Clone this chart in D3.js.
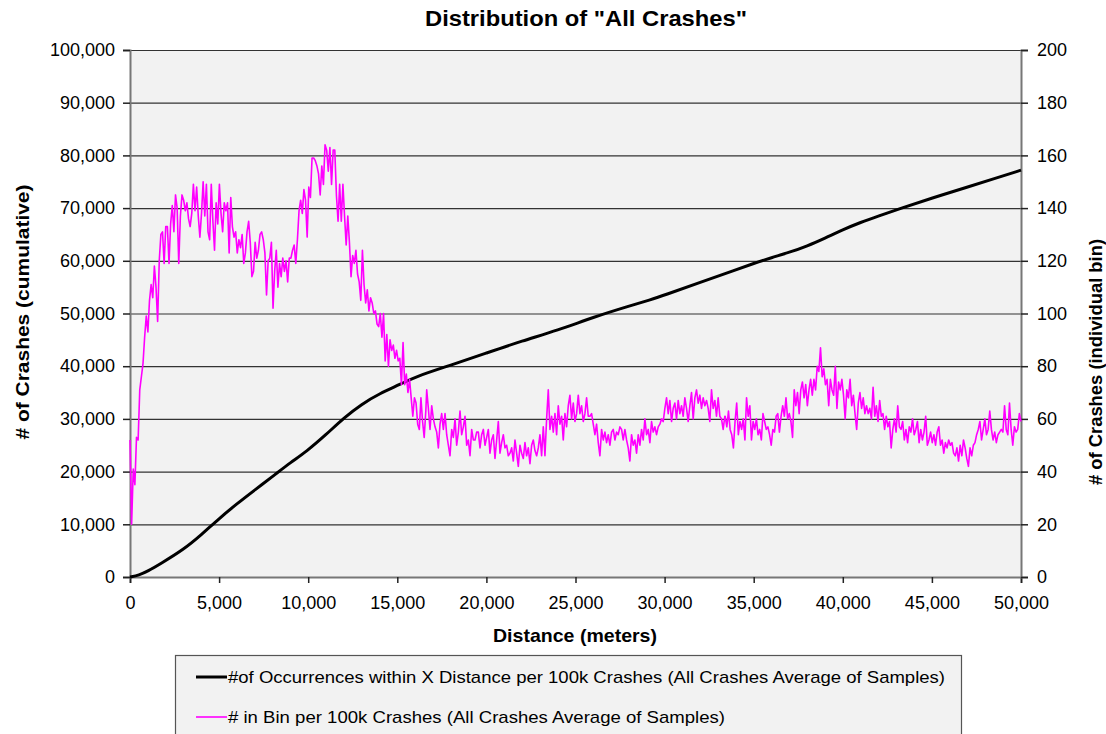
<!DOCTYPE html>
<html>
<head>
<meta charset="utf-8">
<script src="https://cdn.jsdelivr.net/npm/d3@7"></script>
<style>
  body { margin: 0; background: #fff; }
  text { font-family: "Liberation Sans", Arial, sans-serif; fill: #000; }
</style>
</head>
<body>
<div id="chart"></div>
<script>
// cumulative line (black): distance (m) / crashes
var cumDist  = [0, 500, 1000, 1700, 3000, 4000, 5000, 6000, 7000, 8200, 9000, 9900, 11000, 12000, 13000, 14000, 15200, 16000, 18000, 20000, 22000, 24000, 26000, 28000, 29200, 30000, 32000, 34000, 35000, 36000, 37000, 38000, 39000, 40000, 41000, 42000, 43200, 45000, 47000, 48500, 50000];
var cumCount = [0, 350, 1100, 2500, 5200, 8000, 11100, 13900, 16500, 19600, 21700, 23800, 27000, 30200, 32800, 34800, 36600, 38000, 40200, 42500, 44800, 46800, 49300, 51400, 52600, 53500, 55900, 58300, 59500, 60600, 61600, 62800, 64300, 65900, 67300, 68500, 69900, 71900, 74000, 75600, 77200];

// per-bin counts (magenta), read in three stretches of distance
var segStart = [0, 16650, 33400];
var segEnd   = [16600, 33380, 50000];
var binsA = [52,20,41,35,53,52,71,76,81,91,99,93,105,111,106,118,110,97,120,130,131,119,133,133,119,134,141,131,145,140,119,137,145,143,139,142,136,133,138,149,139,148,137,129,138,150,137,149,131,128,149,135,124,142,134,149,138,131,142,139,142,123,144,133,129,131,123,128,125,130,119,123,131,135,127,114,116,127,121,124,130,131,128,123,107,120,121,127,102,116,124,110,119,114,121,116,120,112,121,121,124,126,119,128,139,143,138,147,143,129,148,144,159,159,158,156,153,145,156,149,164,162,154,163,149,162,162,145,135,149,135,149,137,126,137,127,114,122,119,124,115,112,105,124,111,104,109,101,106,104,100,101,96,95,100,91,100,82,92,80,90,86,88,83,86,82,83,73,89,73,77,70,75,68,61,68,66,58,56,68,59,53,63];
var binsB = [71,64,56,65,60,57,55,49,58,62,56,62,54,50,46,56,53,60,50,55,63,54,57,61,50,52,46,56,52,52,55,55,49,54,56,50,53,56,47,52,54,45,52,59,47,51,54,49,50,46,47,49,44,52,47,42,50,47,45,51,46,49,43,50,52,48,46,49,54,46,57,46,60,71,56,61,55,62,54,65,58,61,52,62,57,65,69,60,66,59,62,69,62,65,59,62,68,61,61,62,58,54,58,51,46,56,52,55,51,54,50,55,56,52,55,54,57,56,52,56,52,49,44,54,50,52,47,54,50,56,52,60,54,56,51,59,55,57,54,57,58,60,59,64,68,62,67,59,64,66,60,67,62,65,61,68,64,59,65,70,60,68,71,66,69,64,68,65,67,64,59,71,64,67,61,68,61,60,56,61];
var binsC = [61,57,63,56,54,49,59,66,54,59,56,60,52,68,61,65,52,59,56,60,54,56,52,62,59,56,57,54,50,56,55,61,62,55,61,65,61,68,60,62,59,53,71,65,70,62,71,74,68,73,65,71,75,69,75,71,80,78,87,76,79,73,75,65,75,71,69,80,64,74,71,75,69,60,71,68,75,65,69,62,56,66,70,64,68,62,65,62,64,60,72,61,65,59,67,61,62,56,61,57,59,49,56,60,55,65,57,56,59,52,56,51,57,55,60,54,56,59,51,56,52,55,61,50,52,55,51,54,50,55,57,50,52,47,51,49,52,50,51,47,46,49,44,50,46,52,49,45,42,49,46,50,51,54,56,59,52,56,60,54,56,63,56,52,55,51,54,55,56,55,65,56,54,66,56,50,57,55,56,62,59];

var xTicks = [0, 5000, 10000, 15000, 20000, 25000, 30000, 35000, 40000, 45000, 50000];
var leftTicks = [0, 10000, 20000, 30000, 40000, 50000, 60000, 70000, 80000, 90000, 100000];
var rightTicks = [0, 20, 40, 60, 80, 100, 120, 140, 160, 180, 200];

var legendLabels = [
  "#of Occurrences within X Distance per 100k Crashes (All Crashes Average of Samples)",
  "# in Bin per 100k Crashes (All Crashes Average of Samples)"
];

var margin = {top: 50, right: 85, bottom: 157, left: 130},
    W = 1106, H = 734,
    width = W - margin.left - margin.right,   // 891
    height = H - margin.top - margin.bottom;  // 527

var svg = d3.select("#chart").append("svg")
    .attr("width", W).attr("height", H);

var g = svg.append("g")
    .attr("transform", "translate(" + margin.left + "," + margin.top + ")");

var x = d3.scaleLinear().domain([0, 50000]).range([0, width]);
var yL = d3.scaleLinear().domain([0, 100000]).range([height, 0]);
var yR = d3.scaleLinear().domain([0, 200]).range([height, 0]);

// plot area
g.append("rect")
    .attr("width", width).attr("height", height)
    .attr("fill", "#f2f2f2");

// gridlines
g.selectAll(".grid").data(leftTicks.slice(1))
  .enter().append("line")
    .attr("x1", 0).attr("x2", width)
    .attr("y1", function(d) { return yL(d) + 0.5; })
    .attr("y2", function(d) { return yL(d) + 0.5; })
    .attr("stroke", "#333").attr("stroke-width", 1.2);

// axes
var fmt = d3.format(",");
var ax = g.append("g")
    .attr("transform", "translate(0," + height + ")")
    .call(d3.axisBottom(x).tickValues(xTicks).tickFormat(fmt).tickSizeOuter(0).tickSize(6).tickPadding(13));
var al = g.append("g")
    .call(d3.axisLeft(yL).tickValues(leftTicks).tickFormat(fmt).tickSizeOuter(0).tickSize(7).tickPadding(8));
var ar = g.append("g")
    .attr("transform", "translate(" + width + ",0)")
    .call(d3.axisRight(yR).tickValues(rightTicks).tickSizeOuter(0).tickSize(7).tickPadding(9));

[ax, al, ar].forEach(function(a) {
  a.selectAll("text").style("font-size", "18px").attr("fill", "#000")
    .style("font-family", "'Liberation Sans', Arial, sans-serif");
  a.select(".domain").attr("stroke", "#777").attr("stroke-width", 2);
  a.selectAll(".tick line").attr("stroke", "#222").attr("stroke-width", 1.5);
});

// cumulative line
var cumData = cumDist.map(function(d, i) { return [d, cumCount[i]]; });
g.append("path")
    .datum(cumData)
    .attr("fill", "none")
    .attr("stroke", "#000")
    .attr("stroke-width", 3)
    .attr("d", d3.line()
      .x(function(d) { return x(d[0]); })
      .y(function(d) { return yL(d[1]); })
      .curve(d3.curveBasis));

// per-bin line
var binData = [];
[binsA, binsB, binsC].forEach(function(arr, s) {
  var step = (segEnd[s] - segStart[s]) / (arr.length - 1);
  arr.forEach(function(v, i) { binData.push([segStart[s] + i * step, v]); });
});
g.append("path")
    .datum(binData)
    .attr("fill", "none")
    .attr("stroke", "#ff00ff")
    .attr("stroke-width", 1.6)
    .attr("stroke-linejoin", "round")
    .attr("d", d3.line()
      .x(function(d) { return x(d[0]); })
      .y(function(d) { return yR(d[1]); }));

// titles
svg.append("text")
    .attr("x", 586).attr("y", 26)
    .attr("text-anchor", "middle")
    .style("font-size", "22px").style("font-weight", "bold")
    .attr("textLength", 322).attr("lengthAdjust", "spacingAndGlyphs")
    .text('Distribution of "All Crashes"');

svg.append("text")
    .attr("x", 575).attr("y", 642)
    .attr("text-anchor", "middle")
    .style("font-size", "19px").style("font-weight", "bold")
    .attr("textLength", 164).attr("lengthAdjust", "spacingAndGlyphs")
    .text("Distance (meters)");

svg.append("text")
    .attr("transform", "translate(29," + 312 + ") rotate(-90)")
    .attr("text-anchor", "middle")
    .style("font-size", "19px").style("font-weight", "bold")
    .attr("textLength", 255).attr("lengthAdjust", "spacingAndGlyphs")
    .text("# of Crashes (cumulative)");

svg.append("text")
    .attr("transform", "translate(1102," + 362 + ") rotate(-90)")
    .attr("text-anchor", "middle")
    .style("font-size", "19px").style("font-weight", "bold")
    .attr("textLength", 246).attr("lengthAdjust", "spacingAndGlyphs")
    .text("# of Crashes (individual bin)");

// legend
var lg = svg.append("g").attr("transform", "translate(175,655)");
lg.append("rect")
    .attr("x", 0.5).attr("y", 0.5)
    .attr("width", 786).attr("height", 90)
    .attr("fill", "#f2f2f2").attr("stroke", "#555").attr("stroke-width", 1.2);

var legColors = ["#000", "#ff00ff"], legWidths = [3, 1.6];
legendLabels.forEach(function(t, i) {
  var yy = 22 + i * 40;
  lg.append("line")
    .attr("x1", 21).attr("x2", 52).attr("y1", yy).attr("y2", yy)
    .attr("stroke", legColors[i]).attr("stroke-width", legWidths[i]);
  lg.append("text")
    .attr("x", 53).attr("y", yy + 6)
    .style("font-size", "17px")
    .attr("textLength", i === 0 ? 717 : 497)
    .attr("lengthAdjust", "spacingAndGlyphs")
    .text(t);
});
</script>
</body>
</html>
